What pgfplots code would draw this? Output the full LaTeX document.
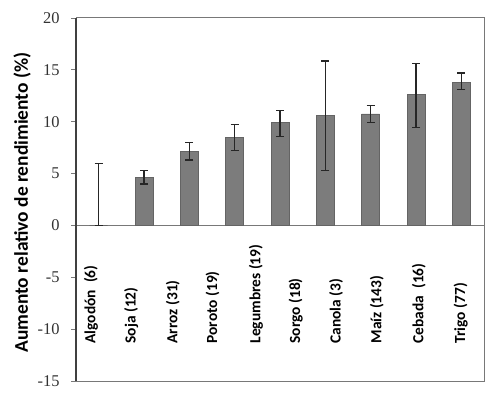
\documentclass[border=0pt]{standalone}
\usepackage{pgfplots}
\pgfplotsset{compat=1.18}
\usepackage{fontspec}
\setmainfont{Liberation Serif}
\newfontfamily\carlito{Carlito}
\definecolor{barfill}{RGB}{124,124,124}
\definecolor{baredge}{RGB}{100,100,100}
\definecolor{framegray}{RGB}{120,120,120}
\tikzset{catlab/.style={rotate=90, anchor=west, inner sep=0pt, font=\carlito\bfseries\fontsize{15.5}{15.5}\selectfont}}
\begin{document}
\begin{tikzpicture}
\path[use as bounding box] (0,0) rectangle (497bp,397bp);
\begin{axis}[
  at={(76bp,16bp)}, anchor=south west,
  scale only axis, width=408bp, height=363bp,
  xmin=0, xmax=9, ymin=-15, ymax=20,
  xtick=\empty,
  ytick={-15,-10,...,20},
  ytick pos=left, tick align=outside,
  major tick length=5bp,
  tick style={framegray, line width=0.8pt},
  axis line style={framegray, line width=1pt},
  /pgf/number format/assume math mode=true,
  yticklabel style={font=\fontsize{16.5}{16.5}\selectfont, text=black!80, xshift=-8bp},
  ylabel={Aumento relativo de rendimiento (\%)},
  ylabel style={font=\carlito\bfseries\fontsize{19.5}{19.5}\selectfont, yshift=-10bp, xshift=-3bp},
  extra y ticks={0}, extra y tick labels={},
  extra y tick style={grid=major, major grid style={framegray, line width=0.8pt}},
  clip=false,
]
\draw[black!75, line width=1.6pt] (rel axis cs:0,0) -- (rel axis cs:0,1);
\addplot[ybar, bar width=18bp, fill=barfill, draw=baredge, line width=0.6pt,
  error bars/.cd, y dir=both, y explicit,
  error bar style={black!85, line width=1.2pt},
  error mark options={black!85, line width=1.2pt, mark size=4bp, rotate=90}]
  table[x=x, y=y, y error plus=ep, y error minus=em] {
x   y     ep    em
0.5 0     6.0   0
1.5 4.65  0.65  0.65
2.5 7.1   0.9   0.8
3.5 8.45  1.25  1.2
4.5 9.9   1.15  1.3
5.5 10.6  5.25  5.3
6.5 10.75 0.8   0.8
7.5 12.6  3.05  3.15
8.5 13.8  0.9   0.7
};
\node[catlab] at (axis cs:0.35,-11.4) {\strut Algodón \ (6)};
\node[catlab] at (axis cs:1.24,-11.4) {\strut Soja (12)};
\node[catlab] at (axis cs:2.16,-11.4) {\strut Arroz (31)};
\node[catlab] at (axis cs:3.04,-11.4) {\strut Poroto (19)};
\node[catlab] at (axis cs:3.99,-11.4) {\strut Legumbres (19)};
\node[catlab] at (axis cs:4.87,-11.4) {\strut Sorgo (18)};
\node[catlab] at (axis cs:5.76,-11.4) {\strut Canola (3)};
\node[catlab] at (axis cs:6.66,-11.4) {\strut Maíz (143)};
\node[catlab] at (axis cs:7.59,-11.4) {\strut Cebada \ (16)};
\node[catlab] at (axis cs:8.51,-11.4) {\strut Trigo (77)};
\end{axis}
\end{tikzpicture}
\end{document}
